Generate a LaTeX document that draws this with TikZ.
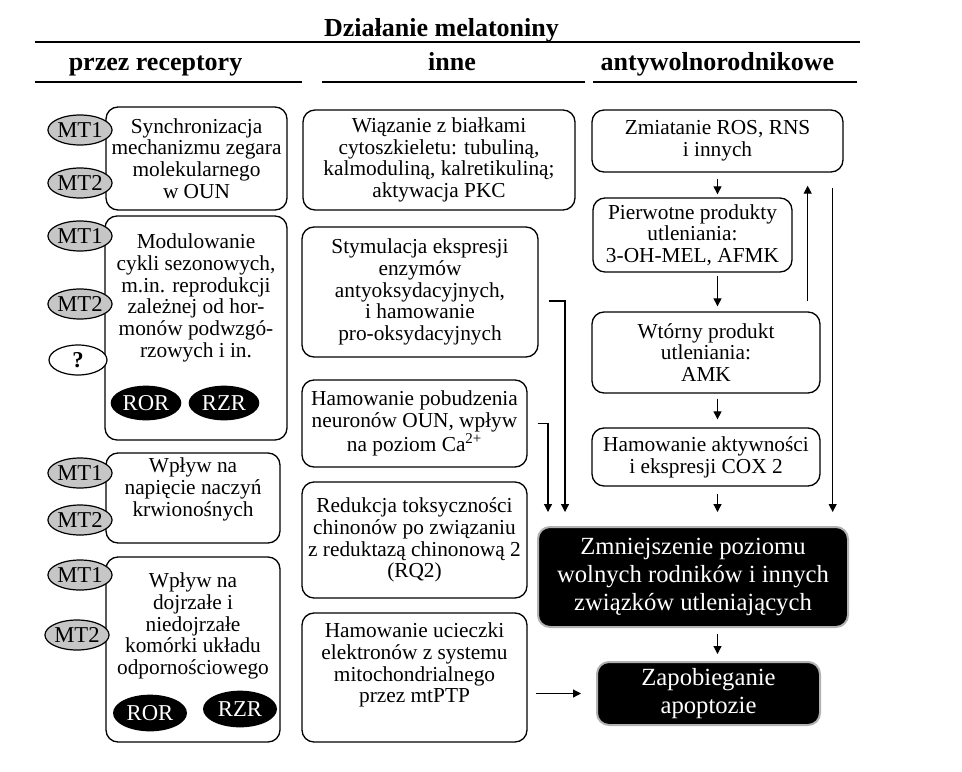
\documentclass[tikz,border=0pt]{standalone}
\usepackage{fontspec}
\setmainfont{Liberation Serif}
\usetikzlibrary{arrows.meta, shapes.geometric, positioning}

\tikzset{
  box/.style={draw, rounded corners=9pt, line width=1pt, inner sep=0pt, align=center},
  dark/.style={box, fill=black, draw=gray!60, line width=1.5pt, text=white,
    font=\fontsize{18.5pt}{21pt}\selectfont},
  txt/.style={inner sep=0pt, align=center},
  rec/.style={ellipse, draw, fill=gray!45, line width=0.9pt, inner sep=0pt,
    minimum width=43.5pt, minimum height=22.5pt, font=\fontsize{17pt}{17pt}\selectfont},
  nuc/.style={ellipse, fill=black, text=white, inner sep=0pt,
    minimum width=53pt, minimum height=26pt, font=\fontsize{17pt}{17pt}\selectfont},
  arr/.style={-{Triangle[length=6pt,width=6pt]}, line width=0.9pt},
  head/.style={font=\fontsize{19.5pt}{22pt}\selectfont\bfseries, anchor=base},
  rule/.style={line width=1.2pt},
}

\begin{document}
\begin{tikzpicture}[x=0.75pt, y=-0.75pt, font=\fontsize{16pt}{16.3pt}\selectfont]
\useasboundingbox (0,0) rectangle (962,771);

% naglowki
\node[head] (tit) at (441.5,36) {Działanie melatoniny};
\node[head] (hrec) at (155.5,70) {przez receptory};
\node[head] (hinn) at (452,70) {inne};
\node[head] (hanty) at (717.5,70) {antywolnorodnikowe};
\draw[rule] (35,42) -- (860,42);
\draw[rule] (35,82) -- (302,82);
\draw[rule] (322,82) -- (585,82);
\draw[rule] (593,82) -- (857,82);

% przez receptory
\node[box, minimum width=135.75pt, minimum height=77.25pt] (syn) at (196.5,158.5) {Synchronizacja\\mechanizmu zegara\\molekularnego\\w OUN};
\node[box, minimum width=136.5pt, minimum height=168pt] (mod) at (196,328) {};
\node[txt, anchor=north] (mod-t) at (196,233.5) {Modulowanie\\cykli sezonowych,\\m.in. reprodukcji\\zależnej od hor-\\monów podwzgó-\\rzowych i in.};
\node[box, minimum width=130.5pt, minimum height=67.5pt] (wpn) at (193,498) {};
\node[txt, anchor=north] (wpn-t) at (193,457.5) {Wpływ na\\napięcie naczyń\\krwionośnych};
\node[box, minimum width=130.5pt, minimum height=138.75pt] (wpo) at (193,649.5) {};
\node[txt, anchor=north] (wpo-t) at (193,572.5) {Wpływ na\\dojrzałe i\\niedojrzałe\\komórki układu\\odpornościowego};

\node[rec] (syn-mt1) at (80,130) {MT1};
\node[rec] (syn-mt2) at (80,183) {MT2};
\node[rec] (mod-mt1) at (80,236) {MT1};
\node[rec] (mod-mt2) at (80,304) {MT2};
\node[rec, fill=white] (mod-q) at (78,360) {\textbf{?}};
\node[nuc] (mod-ror) at (146,403) {ROR};
\node[nuc] (mod-rzr) at (224,403) {RZR};
\node[rec] (wpn-mt1) at (80,473) {MT1};
\node[rec] (wpn-mt2) at (80,520) {MT2};
\node[rec] (wpo-mt1) at (80,575) {MT1};
\node[rec] (wpo-mt2) at (77,635) {MT2};
\node[nuc, minimum width=55.5pt, minimum height=27.5pt] (wpo-ror) at (150,713) {ROR};
\node[nuc, minimum width=55.5pt, minimum height=27.5pt] (wpo-rzr) at (240,709) {RZR};

% inne
\node[box, minimum width=204pt, minimum height=75pt] (wiaz) at (439,160) {Wiązanie z białkami\\cytoszkieletu: tubuliną,\\kalmoduliną, kalretikuliną;\\aktywacja PKC};
\node[box, minimum width=177pt, minimum height=97.5pt] (stym) at (420,292) {Stymulacja ekspresji\\enzymów\\antyoksydacyjnych,\\i hamowanie\\pro-oksydacyjnych};
\node[box, minimum width=168.75pt, minimum height=65.25pt] (hamn) at (414.5,423.5) {Hamowanie pobudzenia\\neuronów OUN, wpływ\\na poziom Ca\textsuperscript{2+}};
\node[box, minimum width=168.75pt, minimum height=87pt] (red) at (414.5,540) {Redukcja toksyczności\\chinonów po związaniu\\z reduktazą chinonową 2\\(RQ2)};
\node[box, minimum width=168.75pt, minimum height=96.75pt] (hamu) at (414.5,677.5) {};
\node[txt, anchor=north] (hamu-t) at (414.5,622.5) {Hamowanie ucieczki\\elektronów z systemu\\mitochondrialnego\\przez mtPTP};

% antywolnorodnikowe
\node[box, minimum width=188.25pt, minimum height=46.5pt] (zmiat) at (717.5,141) {Zmiatanie ROS, RNS\\i innych};
\node[box, minimum width=149.25pt, minimum height=55.5pt] (pierw) at (692.5,235) {Pierwotne produkty\\utleniania:\\3-OH-MEL, AFMK};
\node[box, minimum width=171pt, minimum height=60.75pt] (wtor) at (706,352.5) {Wtórny produkt\\utleniania:\\AMK};
\node[box, minimum width=171pt, minimum height=43.5pt] (cox) at (706,457) {Hamowanie aktywności\\i ekspresji COX 2};
\node[dark, minimum width=232.5pt, minimum height=75pt] (zmn) at (693,577) {Zmniejszenie poziomu\\wolnych rodników i innych\\związków utleniających};
\node[dark, minimum width=167.25pt, minimum height=47.25pt] (apo) at (708.5,693.5) {Zapobieganie\\apoptozie};

% strzalki
\draw[arr, shorten <=4.5pt, shorten >=2.25pt] (zmiat.south) -- (zmiat.south |- pierw.north);
\draw[arr, shorten <=2.25pt, shorten >=3.75pt] (zmiat.south |- pierw.south) -- (zmiat.south |- wtor.north);
\draw[arr, shorten <=3.75pt, shorten >=6pt] (zmiat.south |- wtor.south) -- (zmiat.south |- cox.north);
\draw[arr, shorten <=5.25pt, shorten >=10.5pt] (zmiat.south |- cox.south) -- (zmiat.south |- zmn.north);
\coordinate (upx) at ([xshift=-9.75pt]wtor.north east);
\draw[arr, shorten <=7.5pt, shorten >=9.75pt] (upx) -- (upx |- zmiat.south);
\coordinate (dnx) at ([xshift=-8.25pt]zmiat.south east);
\draw[arr, shorten <=11.25pt, shorten >=10.5pt] (dnx) -- (dnx |- zmn.north);
\draw[arr, shorten <=4.5pt, shorten >=5.25pt] (zmiat.south |- zmn.south) -- (zmiat.south |- apo.north);

\coordinate (colL) at (548,0);
\coordinate (colR) at (565,0);
\draw[arr, shorten <=7.5pt, shorten >=10.5pt] ([yshift=-6.75pt]stym.east) -| (zmn.north -| colR);
\draw[arr, shorten <=7.5pt, shorten >=10.5pt] (hamn.east) -| (zmn.north -| colL);
\draw[arr, shorten <=6pt, shorten >=11.25pt] (hamu.east |- apo.west) -- (apo.west);
\end{tikzpicture}
\end{document}
